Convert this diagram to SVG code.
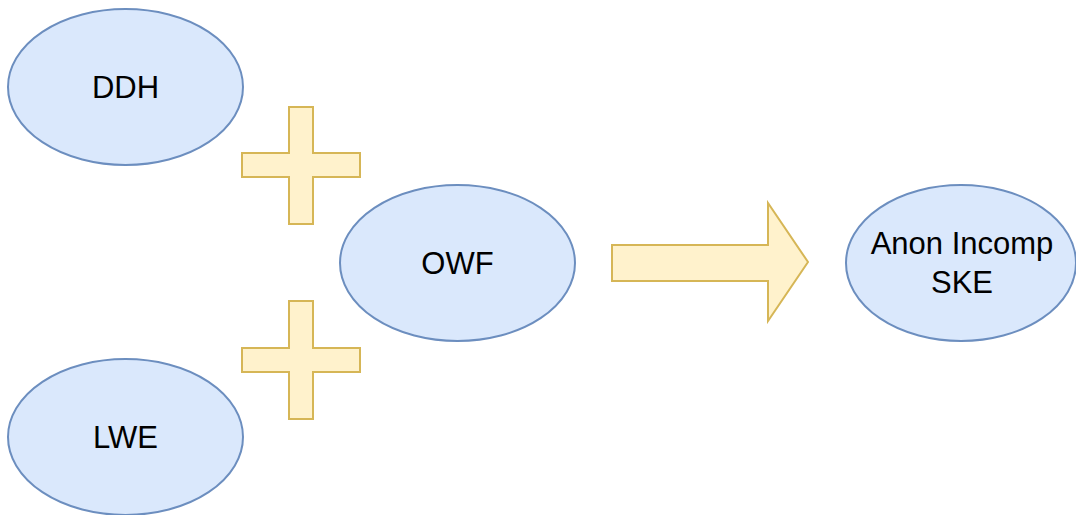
<svg xmlns="http://www.w3.org/2000/svg" width="1076" height="515" viewBox="0 0 1076 515">
  <style>
    .node { fill: #dae8fc; stroke: #6c8ebf; stroke-width: 2; }
    .shape { fill: #fff2cc; stroke: #d6b656; stroke-width: 2; stroke-linejoin: miter; }
    .label { font-family: "Liberation Sans", Arial, sans-serif; font-size: 31px; fill: #000; text-anchor: middle; }
  </style>
  <rect width="1076" height="515" fill="#ffffff"/>

  <g id="ddh">
    <ellipse class="node" cx="125.5" cy="87" rx="117.5" ry="78"/>
    <text class="label" x="125.5" y="98">DDH</text>
  </g>

  <g id="lwe">
    <ellipse class="node" cx="125.5" cy="437" rx="117.5" ry="78"/>
    <text class="label" x="125.5" y="448">LWE</text>
  </g>

  <g id="owf">
    <ellipse class="node" cx="457.5" cy="263" rx="117.5" ry="78"/>
    <text class="label" x="457.5" y="274">OWF</text>
  </g>

  <g id="anon-incomp-ske">
    <ellipse class="node" cx="961" cy="263" rx="115" ry="78"/>
    <text class="label" x="962" y="254">Anon Incomp</text>
    <text class="label" x="962" y="293">SKE</text>
  </g>

  <g id="connectors">
    <!-- plus signs between the assumptions -->
    <path id="plus-top" class="shape" d="M289 107 H313 V153 H360 V177 H313 V224 H289 V177 H242 V153 H289 Z"/>
    <path id="plus-bottom" class="shape" d="M289 301 H313 V348 H360 V372 H313 V419 H289 V372 H242 V348 H289 Z"/>
    <!-- block arrow to the result -->
    <path id="implies" class="shape" d="M612 245 H768 V203 L808 262 L768 321 V281 H612 Z"/>
  </g>
</svg>
